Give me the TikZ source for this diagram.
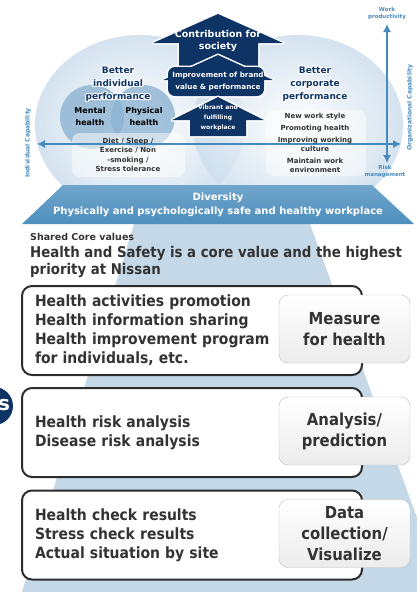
\documentclass[tikz,border=0pt]{standalone}
\usepackage{fontspec}
\setmainfont{DejaVu Sans}
\newfontfamily\medfont{DejaVu Sans Condensed}
\usepackage[copies]{contour}
\contourlength{1.1pt}
\contournumber{16}
\usetikzlibrary{positioning,arrows.meta}

\definecolor{navy}{RGB}{14,52,102}
\definecolor{steel}{RGB}{72,138,188}
\definecolor{bubble}{RGB}{205,222,237}
\definecolor{venn}{RGB}{141,179,210}
\definecolor{pyramid}{RGB}{196,216,231}
\definecolor{diverse}{RGB}{77,143,190}
\definecolor{textgray}{RGB}{51,51,51}
\definecolor{darkline}{RGB}{45,45,45}

\newcommand{\halo}[1]{\contour{white}{#1}}

\tikzstyle{axis} = [draw=steel,line width=1.2pt,{Latex[length=8pt,width=8pt]}-{Latex[length=8pt,width=8pt]}]
\tikzstyle{axislabel} = [text=steel,font=\bfseries\fontsize{5.5}{7}\selectfont,align=center,inner sep=0pt]
\tikzstyle{outline} = [draw=white,line width=3pt,line join=round]
\tikzstyle{arrowtext} = [text=white,font=\bfseries,align=center,inner sep=0pt]
\tikzstyle{goal} = [text=navy,font=\bfseries\fontsize{9}{13}\selectfont,align=center,inner sep=0pt]
\tikzstyle{item} = [text=textgray,font=\bfseries\fontsize{7}{9.3}\selectfont,align=center,inner sep=0pt]
\tikzstyle{glass} = [fill=white,fill opacity=0.5,rounded corners=8pt]
\tikzstyle{mainbox} = [draw=darkline,line width=2pt,rounded corners=10pt,fill=white,
  minimum height=89pt,text width=314pt,inner xsep=13pt,align=left,text=textgray,
  font=\medfont\bfseries\fontsize{15.5}{19}\selectfont]
\tikzstyle{tagbox} = [draw=gray!50,rounded corners=9pt,top color=white,bottom color=gray!15,
  minimum width=131pt,minimum height=68pt,align=center,text=textgray,
  font=\medfont\bfseries\fontsize{16.5}{21}\selectfont]

\begin{document}
\begin{tikzpicture}[x=1pt,y=-1pt]
  \useasboundingbox (0,0) rectangle (416,592);

  %bubbles
  \shade[inner color=white,outer color=bubble,opacity=0.85] (140,125) ellipse [x radius=105,y radius=90];
  \shade[inner color=white,outer color=bubble,opacity=0.85] (298,125) ellipse [x radius=105,y radius=90];
  \fill[venn,fill opacity=0.8] (92,117) circle (32);
  \fill[venn,fill opacity=0.8] (143,117) circle (32);
  \fill[glass] (72,133) rectangle (185,177);
  \fill[glass] (266,110) rectangle (366,176);

  %axes
  \coordinate (west) at (37,144);
  \coordinate (east) at (401,144);
  \coordinate (top) at (387,24);
  \coordinate (bottom) at (387,163);
  \draw[axis] (west) -- (east);
  \draw[axis] (top) -- (bottom);
  \node[axislabel] (work) at (387,14) {Work\\productivity};
  \node[axislabel] (risk) at (385,172) {Risk\\management};
  \node[axislabel,rotate=90,font=\bfseries\fontsize{6}{7}\selectfont] (indiv) at (28,143) {Individual Capability};
  \node[axislabel,rotate=90,font=\bfseries\fontsize{6}{7}\selectfont] (organ) at (410,108) {Organizational Capability};

  %arrows
  \path[outline] (218,14) -- (283,43) -- (258,43) -- (258,66) -- (179,66) -- (179,43) -- (153,43) -- cycle;
  \fill[navy] (218,14) -- (283,43) -- (258,43) -- (258,66) -- (179,66) -- (179,43) -- (153,43) -- cycle;
  \path[outline] (218,55) -- (273,80) -- (163,80) -- cycle;
  \path[outline,rounded corners=7pt] (168,67) rectangle (264,96);
  \fill[navy] (218,55) -- (273,80) -- (163,80) -- cycle;
  \fill[navy,rounded corners=7pt] (168,67) rectangle (264,96);
  \path[outline] (218,97) -- (264,120) -- (246,120) -- (246,136) -- (190,136) -- (190,120) -- (172,120) -- cycle;
  \fill[navy] (218,97) -- (264,120) -- (246,120) -- (246,136) -- (190,136) -- (190,120) -- (172,120) -- cycle;
  \node[arrowtext,font=\bfseries\fontsize{9.5}{12}\selectfont] (society) at (218,41) {Contribution for\\society};
  \node[arrowtext,font=\bfseries\fontsize{7.2}{12}\selectfont] (brand) at (218,82) {Improvement of brand\\value \& performance};
  \node[arrowtext,font=\bfseries\fontsize{6}{10}\selectfont] (vibrant) at (218,118) {Vibrant and\\fulfilling\\workplace};

  %labels
  \node[goal] (individual) at (118,85) {\halo{Better}\\\halo{individual}\\\halo{performance}};
  \node[goal] (corporate) at (315,85) {\halo{Better}\\\halo{corporate}\\\halo{performance}};
  \node[item,text=black,font=\bfseries\fontsize{8}{12}\selectfont] (mental) at (90,117) {Mental\\health};
  \node[item,text=black,font=\bfseries\fontsize{8}{12}\selectfont] (physical) at (144,117) {Physical\\health};
  \node[item] (diet) at (128,155) {Diet / Sleep /\\Exercise / Non\\-smoking /\\Stress tolerance};
  \node[item,font=\bfseries\fontsize{7}{9}\selectfont] (style) at (315,143)
    {New work style\\[3pt]Promoting health\\[3pt]Improving working\\culture\\[3pt]Maintain work\\environment};

  %base
  \fill[pyramid] (134,224) -- (310,224) -- (444,592) -- (22,592) -- cycle;
  \shade[top color=diverse!80!white,bottom color=diverse] (63,185) -- (372,185) -- (414,224) -- (22,224) -- cycle;
  \node[arrowtext,font=\bfseries\fontsize{10}{13.5}\selectfont] (diversity) at (218,205)
    {Diversity\\Physically and psychologically safe and healthy workplace};
  \fill[navy] (-6,406) circle (19);
  \node[text=white,font=\bfseries\fontsize{20}{20}\selectfont,inner sep=0pt] (badge) at (4,405) {s};

  %core values
  \node[anchor=west,text=textgray,font=\bfseries\fontsize{9.5}{11}\selectfont,inner sep=0pt] (shared) at (30,237) {Shared Core values};
  \node[anchor=west,text=textgray,align=left,font=\medfont\bfseries\fontsize{14.8}{17}\selectfont,inner sep=0pt] (core) at (30,261.5)
    {Health and Safety is a core value and the highest\\priority at Nissan};

  %boxes
  \foreach \name/\y/\body/\tag in {
    measure/330.5/{Health activities promotion\\Health information sharing\\Health improvement program\\for individuals, etc.}/{Measure\\for health},
    analysis/432.5/{Health risk analysis\\Disease risk analysis}/{Analysis/\\prediction},
    data/535/{Health check results\\Stress check results\\Actual situation by site}/{Data\\collection/\\Visualize}}
  {
    \node[mainbox] (\name) at (192,\y) {\body};
    \node[tagbox] (\name tag) at (344.5,\y-1.5) {\tag};
  };
\end{tikzpicture}
\end{document}
